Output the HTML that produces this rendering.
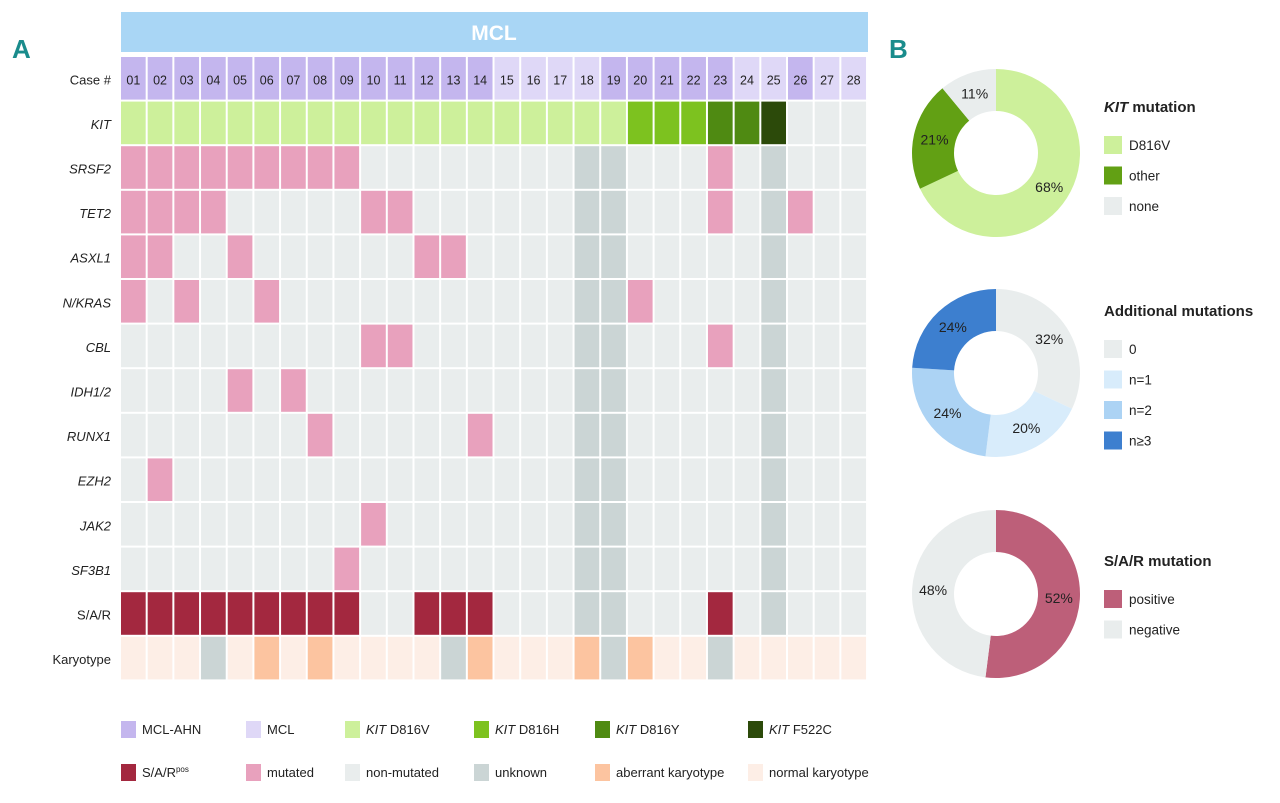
<!DOCTYPE html>
<html><head><meta charset="utf-8">
<style>
body{margin:0;background:#fff;width:1280px;height:798px;overflow:hidden}
svg text{font-family:"Liberation Sans","DejaVu Sans",sans-serif}
</style></head>
<body>
<svg id="chart" width="1280" height="798" viewBox="0 0 1280 798" xmlns="http://www.w3.org/2000/svg">
<text x="12" y="58" font-size="26" font-weight="bold" fill="#1a8c8c">A</text>
<text x="889" y="58" font-size="26" font-weight="bold" fill="#1a8c8c">B</text>
<rect x="121" y="12" width="747" height="40" fill="#a9d6f5"/>
<text x="494" y="40" font-size="21" font-weight="bold" fill="#fff" text-anchor="middle">MCL</text>
<g id="grid"></g><g id="donuts"></g><g id="legend"></g>
</svg>
<script>
const NS='http://www.w3.org/2000/svg';
const rowLabels=['Case #','KIT','SRSF2','TET2','ASXL1','N/KRAS','CBL','IDH1/2','RUNX1','EZH2','JAK2','SF3B1','S/A/R','Karyotype'];
const caseType=['A','A','A','A','A','A','A','A','A','A','A','A','A','A','M','M','M','M','A','A','A','A','A','M','M','A','M','M'];
const kitStatus=['V','V','V','V','V','V','V','V','V','V','V','V','V','V','V','V','V','V','V','H','H','H','Y','Y','F','n','n','n'];
const unknownCases=[18,19,25];
const SRSF2=[1,2,3,4,5,6,7,8,9,23];
const TET2=[1,2,3,4,10,11,23,26];
const ASXL1=[1,2,5,12,13];
const NKRAS=[1,3,6,20];
const CBL=[10,11,23];
const IDH=[5,7];
const RUNX1=[8,14];
const EZH2=[2];
const JAK2=[10];
const SF3B1=[9];
const SAR=[1,2,3,4,5,6,7,8,9,12,13,14,23];
const karyoAberrant=[6,8,14,18,20];
const karyoUnknown=[4,13,19,23];
const geneRows=[SRSF2,TET2,ASXL1,NKRAS,CBL,IDH,RUNX1,EZH2,JAK2,SF3B1];
const C={A:'#c4b6ee',M:'#dfd8f7',V:'#cdf09b',H:'#7dc21f',Y:'#4f8a12',F:'#2c4a0a',n:'#e9eded',mut:'#e8a1bd',non:'#e9eded',unk:'#cbd5d5',sar:'#a3283f',ab:'#fcc4a0',norm:'#fdeee6'};
const x0=121,colW=26.68,y0=57,rowH=44.6,gap=2;
function el(t,a,p){const e=document.createElementNS(NS,t);for(const k in a)e.setAttribute(k,a[k]);p.appendChild(e);return e;}
const grid=document.getElementById('grid');
rowLabels.forEach((lab,r)=>{
 const t=el('text',{x:111,y:y0+r*rowH+rowH/2+5,'font-size':13,'text-anchor':'end',fill:'#222','font-style':(r>=1&&r<=11)?'italic':'normal'},grid);
 t.textContent=lab;
 
 
});
for(let r=0;r<rowLabels.length;r++){
 for(let c=1;c<=28;c++){
  let col;
  if(r===0)col=C[caseType[c-1]];
  else if(r===1)col=C[kitStatus[c-1]];
  else if(r===13)col=karyoUnknown.includes(c)?C.unk:karyoAberrant.includes(c)?C.ab:C.norm;
  else{
   const set=r===12?SAR:geneRows[r-2];
   col=set.includes(c)?(r===12?C.sar:C.mut):unknownCases.includes(c)?C.unk:C.non;
  }
  const rc=el('rect',{x:x0+(c-1)*colW,y:y0+r*rowH,width:colW-gap,height:rowH-gap,fill:col},grid);
  
  
  if(r===0){const t=el('text',{x:x0+(c-1)*colW+(colW-gap)/2,y:y0+rowH/2+5,'font-size':12.5,'text-anchor':'middle',fill:'#222'},grid);t.textContent=String(c).padStart(2,'0');
   
   }
 }
}
const kitVals=[68,21,11];const kitLabels=['D816V','other','none'];const kitColors=['#cdf09b','#62a014','#e9eded'];
const addVals=[32,20,24,24];const addLabels=['0','n=1','n=2','n≥3'];const addColors=['#e9eded','#d8ecfb','#acd3f4','#3d7fcf'];
const sarVals=[52,48];const sarLabels=['positive','negative'];const sarColors=['#bd5f79','#e9eded'];
const dg=document.getElementById('donuts');
function donut(vals,labels,colors,cy,title,ty,name){
 const cx=996,R=84,r=42;let a=0;const tot=vals.reduce((s,v)=>s+v,0);
 vals.forEach((v,i)=>{
  const a1=a+v/tot*2*Math.PI;
  const p=(ang,rad)=>[cx+rad*Math.sin(ang),cy-rad*Math.cos(ang)];
  const [x1,y1]=p(a,R),[x2,y2]=p(a1,R),[x3,y3]=p(a1,r),[x4,y4]=p(a,r);
  const lg=(a1-a)>Math.PI?1:0;
  const s=el('path',{d:`M${x1},${y1}A${R},${R} 0 ${lg} 1 ${x2},${y2}L${x3},${y3}A${r},${r} 0 ${lg} 0 ${x4},${y4}Z`,fill:colors[i]},dg);
  
  
  const m=(a+a1)/2,[lx,ly]=p(m,63);
  const t=el('text',{x:lx,y:ly+5,'font-size':14,'text-anchor':'middle',fill:'#222'},dg);t.textContent=v+'%';
  
  
  a=a1;
 });
 const tt=el('text',{x:1104,y:ty,'font-size':15,'font-weight':'bold',fill:'#222'},dg);tt.innerHTML=title;
 
 
 labels.forEach((l,i)=>{
  const yy=ty+24+i*30.5;
  const s=el('rect',{x:1104,y:yy,width:18,height:18,fill:colors[i]},dg);
  
  
  const t=el('text',{x:1129,y:yy+14,'font-size':13.5,fill:'#222'},dg);t.textContent=l;
  
  
 });
}
donut(kitVals,kitLabels,kitColors,153,'<tspan font-style="italic">KIT</tspan> mutation',112,'kit-donut');
donut(addVals,addLabels,addColors,373,'Additional mutations',316,'additional-donut');
donut(sarVals,sarLabels,sarColors,594,'S/A/R mutation',566,'sar-donut');
const lg=document.getElementById('legend');
const legItems=[['MCL-AHN',C.A,0],['MCL',C.M,0],['<tspan font-style="italic">KIT</tspan> D816V',C.V,0],['<tspan font-style="italic">KIT</tspan> D816H',C.H,0],['<tspan font-style="italic">KIT</tspan> D816Y',C.Y,0],['<tspan font-style="italic">KIT</tspan> F522C',C.F,0],
['S/A/R<tspan font-size="8" dy="-5">pos</tspan>',C.sar,1],['mutated',C.mut,1],['non-mutated',C.non,1],['unknown',C.unk,1],['aberrant karyotype',C.ab,1],['normal karyotype',C.norm,1]];
const lx=[121,246,345,474,595,748];
legItems.forEach((it,i)=>{
 const x=lx[i%6],y=it[2]?764:721;
 const s=el('rect',{x:x,y:y,width:15,height:17,fill:it[1]},lg);
 
 
 const t=el('text',{x:x+21,y:y+13,'font-size':13,fill:'#222'},lg);t.innerHTML=it[0];
 
 
});
</script>
</body></html>
